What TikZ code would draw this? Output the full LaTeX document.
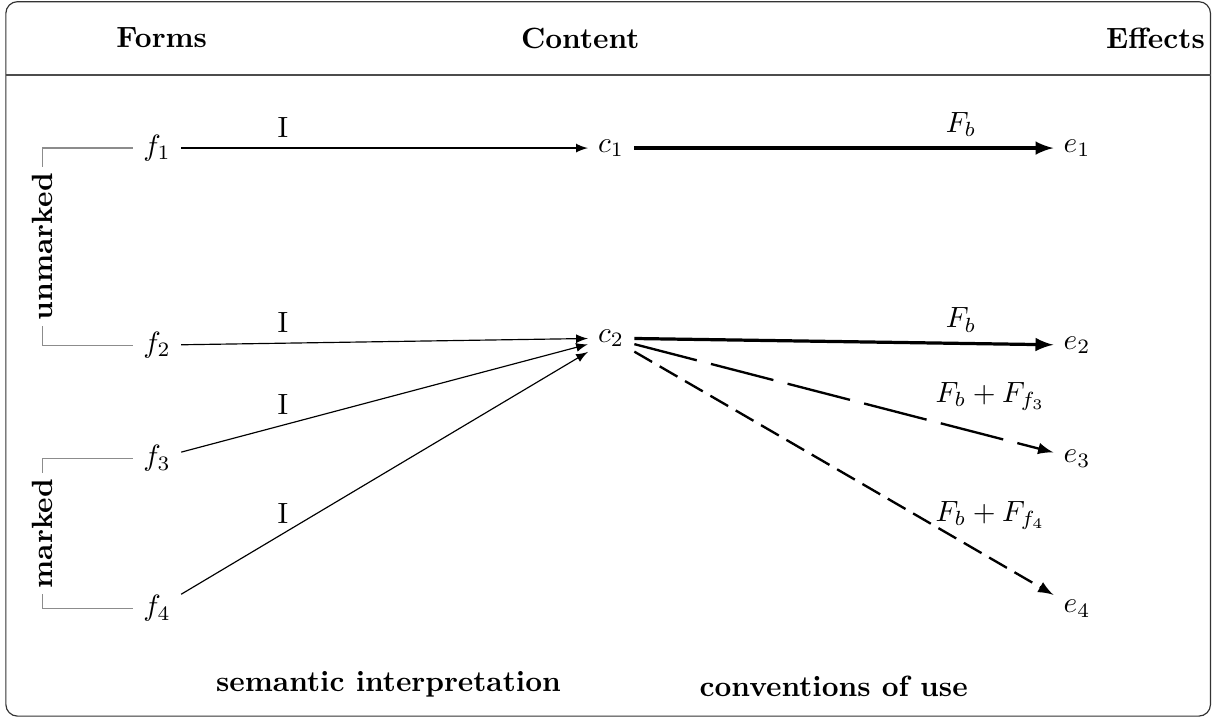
\documentclass[tikz,border=0pt]{standalone}
\begin{document}
\begin{tikzpicture}[
    header/.style={font=\bfseries},
    bracket/.style={draw=black!45},
    bracketlabel/.style={fill=white, rotate=90, font=\bfseries, inner sep=2pt},
    interp/.style={-latex},
    basic/.style={-latex, line width=1.1pt},
    extra/.style={-latex, thick}
  ]
  \useasboundingbox (0,0) rectangle (14.55,-8.63);

  % Frame and header row
  \draw[black!80, rounded corners=4pt] (0.07,-0.02) rectangle (14.52,-8.59);
  \draw[black!70] (0.07,-0.90) -- (14.52,-0.90);
  \node[header] (forms) at (1.94,-0.456) {Forms};
  \node[header] (content) at (6.96,-0.456) {Content};
  \node[header] (effects) at (13.86,-0.456) {Effects};

  % Forms
  \node (f1) at (1.884,-1.776) {$f_1$};
  \node (f2) at (1.884,-4.14) {$f_2$};
  \node (f3) at (1.884,-5.50) {$f_3$};
  \node (f4) at (1.884,-7.30) {$f_4$};

  % Content
  \node (c1) at (7.33,-1.776) {$c_1$};
  \node (c2) at (7.33,-4.056) {$c_2$};

  % Effects
  \node (e1) at (12.92,-1.776) {$e_1$};
  \node (e2) at (12.92,-4.14) {$e_2$};
  \node (e3) at (12.92,-5.50) {$e_3$};
  \node (e4) at (12.92,-7.30) {$e_4$};

  % Groups of forms
  \draw[bracket] (f1.west) -- ++(-1.09,0) |- node[pos=0.25, bracketlabel] {unmarked} (f2.west);
  \draw[bracket] (f3.west) -- ++(-1.09,0) |- node[pos=0.25, bracketlabel] {marked} (f4.west);

  % Semantic interpretation
  \draw[interp] (f1) -- node[pos=0.25, above] {I} (c1);
  \draw[interp] (f2) -- node[pos=0.25, above] {I} (c2);
  \draw[interp] (f3) -- node[pos=0.25, above] {I} (c2);
  \draw[interp] (f4) -- node[pos=0.25, above] {I} (c2);

  % Conventions of use
  \draw[basic] (c1) -- node[pos=0.78, above] {$F_b$} (e1);
  \draw[basic] (c2) -- node[pos=0.78, above] {$F_b$} (e2);
  \draw[extra, dash pattern=on 22pt off 5pt] (c2) -- node[pos=0.85, above=5pt] {$F_b + F_{f_3}$} (e3);
  \draw[extra, dash pattern=on 7pt off 3pt] (c2) -- node[pos=0.85, above=6pt] {$F_b + F_{f_4}$} (e4);

  % Column captions
  \node[header, anchor=base] (semlabel) at (4.66,-8.30) {semantic interpretation};
  \node[header, anchor=base] (convlabel) at (10.0,-8.36) {conventions of use};
\end{tikzpicture}
\end{document}
